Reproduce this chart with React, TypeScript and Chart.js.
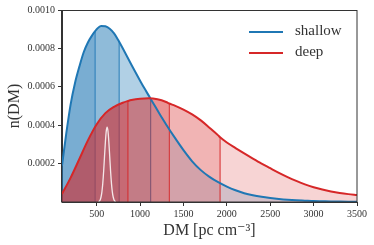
import React, { useEffect, useRef } from "react";
import { Chart, registerables } from "chart.js";

Chart.register(...registerables);

// ---- data ----
const xTicks = [500, 1000, 1500, 2000, 2500, 3000, 3500];
const yTicks = [0.0002, 0.0004, 0.0006, 0.0008, 0.001];

const shallowDM = [100, 150, 200, 250, 300, 350, 400, 450, 482, 500, 550, 600, 650, 700, 750, 759, 800, 850, 900, 950, 1000, 1050, 1100, 1122, 1150, 1200, 1250, 1300, 1400, 1500, 1600, 1700, 1800, 1900, 2000, 2100, 2200, 2300, 2400, 2500, 2600, 2700, 2800, 2900, 3000, 3100, 3200, 3300, 3400, 3500];
const shallowVal = [1.9e-4, 3.6e-4, 5.1e-4, 6.2e-4, 7.05e-4, 7.8e-4, 8.32e-4, 8.7e-4, 8.9e-4, 9.0e-4, 9.17e-4, 9.15e-4, 9.02e-4, 8.78e-4, 8.42e-4, 8.35e-4, 8.01e-4, 7.58e-4, 7.15e-4, 6.73e-4, 6.32e-4, 5.92e-4, 5.54e-4, 5.37e-4, 5.16e-4, 4.78e-4, 4.4e-4, 4.04e-4, 3.35e-4, 2.7e-4, 2.12e-4, 1.66e-4, 1.31e-4, 1.03e-4, 0.8e-4, 0.61e-4, 0.46e-4, 0.35e-4, 0.27e-4, 0.21e-4, 0.16e-4, 0.12e-4, 0.09e-4, 0.07e-4, 0.05e-4, 0.04e-4, 0.03e-4, 0.024e-4, 0.019e-4, 0.015e-4];
const shallowQ = [482, 759, 1122];
const shallowQTop = [8.9e-4, 8.35e-4, 5.37e-4];

const deepDM = [100, 200, 300, 400, 500, 600, 700, 800, 860, 900, 1000, 1100, 1200, 1300, 1337, 1400, 1500, 1600, 1700, 1800, 1900, 1922, 2000, 2100, 2200, 2300, 2400, 2500, 2600, 2700, 2800, 2900, 3000, 3100, 3200, 3300, 3400, 3500];
const deepVal = [0.42e-4, 1.27e-4, 2.24e-4, 3.22e-4, 4.05e-4, 4.63e-4, 4.96e-4, 5.17e-4, 5.26e-4, 5.31e-4, 5.38e-4, 5.4e-4, 5.35e-4, 5.21e-4, 5.13e-4, 5.02e-4, 4.81e-4, 4.56e-4, 4.25e-4, 3.87e-4, 3.47e-4, 3.37e-4, 3.1e-4, 2.81e-4, 2.53e-4, 2.26e-4, 2.0e-4, 1.76e-4, 1.52e-4, 1.3e-4, 1.1e-4, 0.92e-4, 0.77e-4, 0.65e-4, 0.55e-4, 0.47e-4, 0.41e-4, 0.365e-4];
const deepQ = [860, 1337, 1922];
const deepQTop = [5.26e-4, 5.13e-4, 3.37e-4];

const pulseDM = [520, 530, 540, 550, 560, 570, 580, 590, 600, 610, 620, 630, 640, 650, 660, 670, 680, 690, 700, 710, 720];
const pulseVal = [0.015e-4, 0.04e-4, 0.11e-4, 0.26e-4, 0.53e-4, 0.97e-4, 1.6e-4, 2.37e-4, 3.12e-4, 3.69e-4, 3.9e-4, 3.69e-4, 3.12e-4, 2.37e-4, 1.6e-4, 0.97e-4, 0.53e-4, 0.26e-4, 0.11e-4, 0.04e-4, 0.015e-4];

const seriesNames = ["shallow", "deep"];
const BLUE = "#1f77b4";
const RED = "#d62728";
const regionAlpha = [0.6, 0.5, 0.35, 0.2];
const FONT = "'Liberation Serif', 'DejaVu Serif', serif";

function rgba(hex: string, a: number) {
  const r = parseInt(hex.slice(1, 3), 16);
  const g = parseInt(hex.slice(3, 5), 16);
  const b = parseInt(hex.slice(5, 7), 16);
  return `rgba(${r},${g},${b},${a})`;
}

function pts(xs: number[], ys: number[]) {
  return xs.map((x, i) => ({ x, y: ys[i] }));
}

function vlines(qs: number[], tops: number[]) {
  const out: { x: number; y: number | null }[] = [];
  qs.forEach((q, i) => {
    out.push({ x: q, y: 0 }, { x: q, y: tops[i] }, { x: q, y: null });
  });
  return out;
}

function regionColor(hex: string, qs: number[]) {
  return (ctx: any) => {
    const x = ctx.p0.parsed.x;
    let k = 0;
    for (const q of qs) if (x >= q - 1e-9) k++;
    return rgba(hex, regionAlpha[k]);
  };
}

const frame = {
  id: "frame",
  afterDatasetsDraw(chart: any) {
    const { ctx, chartArea: a } = chart;
    ctx.save();
    ctx.strokeStyle = "#333";
    ctx.lineWidth = 1;
    ctx.strokeRect(Math.round(a.left) - 0.5, Math.round(a.top) + 0.5, Math.round(a.right - a.left) + 0.5, Math.round(a.bottom - a.top) - 0.5);
    ctx.restore();
  },
};

export default function App() {
  const ref = useRef<HTMLCanvasElement | null>(null);

  useEffect(() => {
    if (!ref.current) return;
    const curve = { pointRadius: 0, cubicInterpolationMode: "monotone" as const };
    const chart = new Chart(ref.current, {
      type: "line",
      data: {
        datasets: [
          { label: "pulse", data: pts(pulseDM, pulseVal), borderColor: "rgba(255,255,255,0.85)", borderWidth: 1.3, fill: false, order: 0, ...curve },
          { label: seriesNames[1], data: pts(deepDM, deepVal), borderColor: RED, borderWidth: 2, fill: false, order: 1, ...curve },
          { label: seriesNames[0], data: pts(shallowDM, shallowVal), borderColor: BLUE, borderWidth: 2, fill: false, order: 2, ...curve },
          { label: "deep q", data: vlines(deepQ, deepQTop), borderColor: RED, borderWidth: 1, pointRadius: 0, fill: false, spanGaps: false, order: 7 },
          {
            label: "deep fill", data: pts(deepDM, deepVal), borderWidth: 0, borderColor: "rgba(0,0,0,0)", fill: "origin",
            backgroundColor: rgba(RED, 0.2), segment: { backgroundColor: regionColor(RED, deepQ) }, order: 8, ...curve,
          },
          { label: "shallow q", data: vlines(shallowQ, shallowQTop), borderColor: BLUE, borderWidth: 1, pointRadius: 0, fill: false, spanGaps: false, order: 9 },
          {
            label: "shallow fill", data: pts(shallowDM, shallowVal), borderWidth: 0, borderColor: "rgba(0,0,0,0)", fill: "origin",
            backgroundColor: rgba(BLUE, 0.2), segment: { backgroundColor: regionColor(BLUE, shallowQ) }, order: 10, ...curve,
          },
        ] as any,
      },
      options: {
        animation: false,
        responsive: false,
        maintainAspectRatio: false,
        layout: { padding: { top: 10, right: 17, left: 0, bottom: 0 } },
        plugins: { legend: { display: false }, tooltip: { enabled: false } },
        scales: {
          x: {
            type: "linear",
            min: 100,
            max: 3500,
            afterBuildTicks: (s: any) => { s.ticks = xTicks.map((v) => ({ value: v })); },
            afterFit: (s: any) => { s.height = 43; },
            grid: { display: true, drawOnChartArea: false, drawTicks: true, tickLength: 4, color: "#333" },
            border: { display: true, color: "#333" },
            ticks: { font: { family: FONT, size: 10 }, color: "#333", padding: 2, maxRotation: 0, callback: (v: any) => String(v) },
            title: { display: true, text: "DM [pc cm⁻³]", font: { family: FONT, size: 16 }, color: "#333", padding: { top: 0, bottom: 5 } },
          },
          y: {
            type: "linear",
            min: 0,
            max: 0.001,
            afterBuildTicks: (s: any) => { s.ticks = yTicks.map((v) => ({ value: v })); },
            afterFit: (s: any) => { s.width = 62; },
            grid: { display: true, drawOnChartArea: false, drawTicks: true, tickLength: 4, color: "#333" },
            border: { display: true, color: "#333" },
            ticks: { font: { family: FONT, size: 10 }, color: "#333", padding: 3, callback: (v: any) => Number(v).toFixed(4) },
            title: { display: true, text: "n(DM)", font: { family: FONT, size: 16 }, color: "#333", padding: { top: 5, bottom: 0 } },
          },
        },
      },
      plugins: [frame],
    });
    return () => chart.destroy();
  }, []);

  const legendItems = [
    { name: seriesNames[0], color: BLUE },
    { name: seriesNames[1], color: RED },
  ];

  return (
    <div style={{ position: "fixed", left: 0, top: 0, width: 374, height: 245, background: "#fff" }}>
      <canvas ref={ref} width={374} height={245} style={{ width: 374, height: 245, display: "block" }} />
      <div style={{ position: "absolute", left: 249, top: 21, fontFamily: FONT, fontSize: 15, color: "#333" }}>
        {legendItems.map((it) => (
          <div key={it.name} style={{ display: "flex", alignItems: "center", height: 21 }}>
            <span style={{ display: "inline-block", width: 34, height: 2, background: it.color, marginRight: 12 }} />
            <span style={{ lineHeight: "21px", position: "relative", top: -1 }}>{it.name}</span>
          </div>
        ))}
      </div>
    </div>
  );
}
